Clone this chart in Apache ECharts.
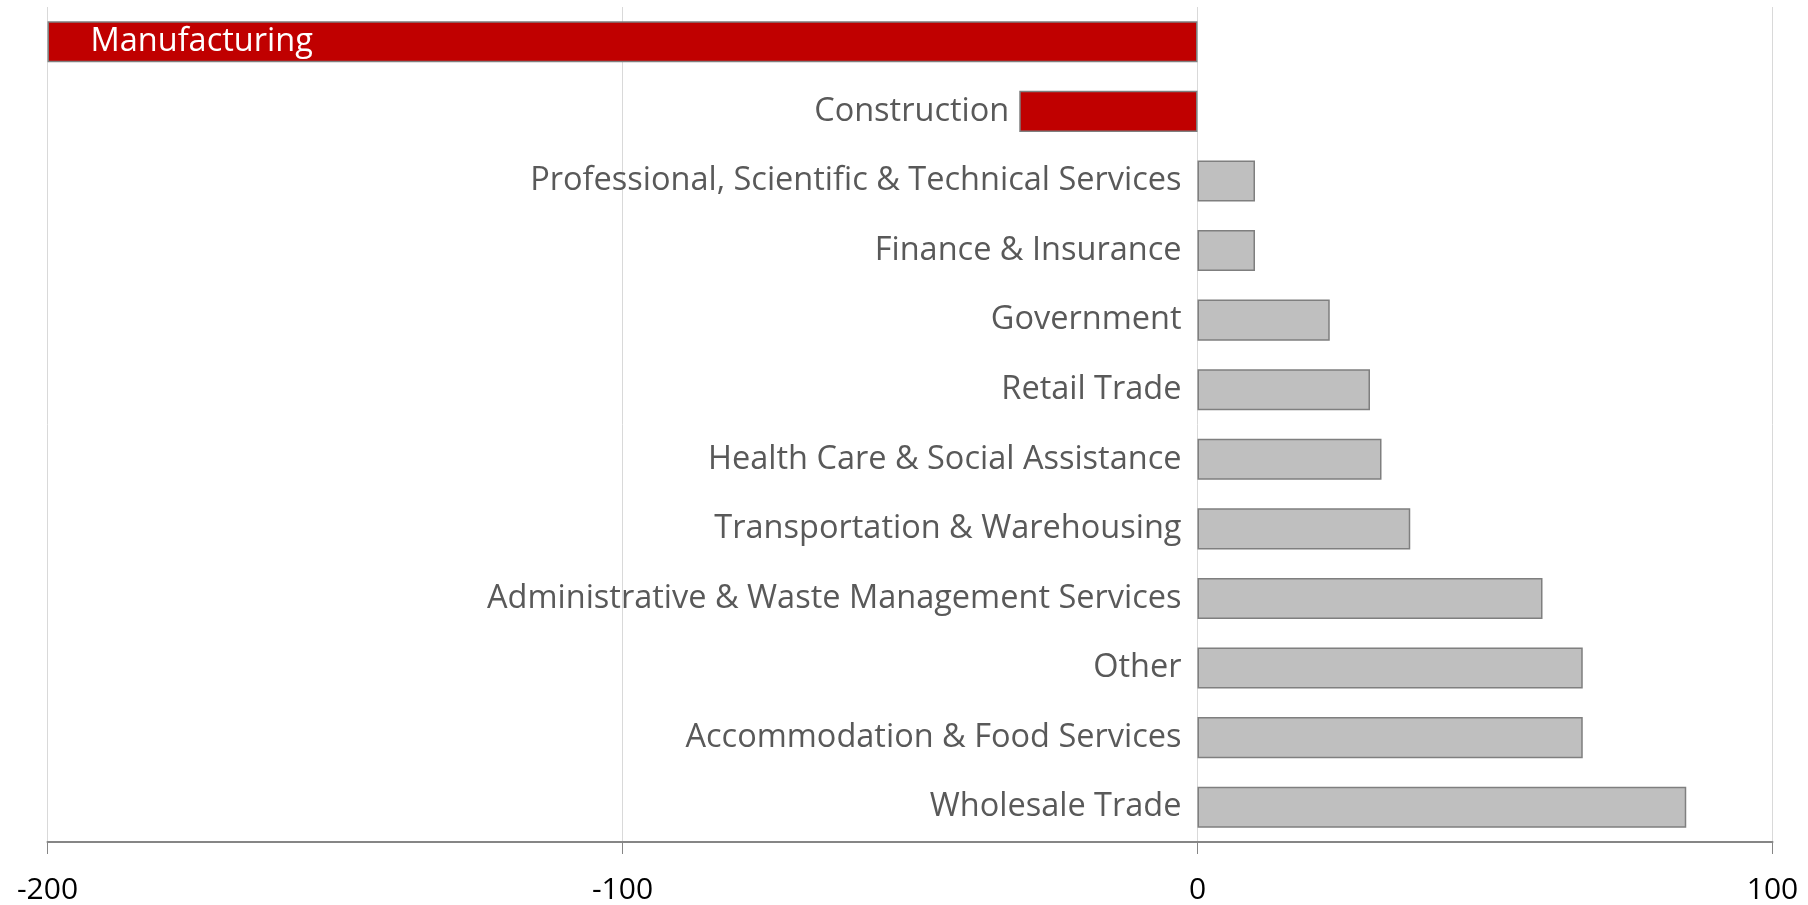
<!DOCTYPE html>
<html>
<head>
<meta charset="utf-8">
<script src="https://cdn.jsdelivr.net/npm/echarts@6/dist/echarts.min.js"></script>
<style>
html,body{margin:0;padding:0;background:#fff;}
#chart{width:1808px;height:905px;}
</style>
</head>
<body>
<div id="chart"></div>
<script>
const categories = [
  "Manufacturing",
  "Construction",
  "Professional, Scientific & Technical Services",
  "Finance & Insurance",
  "Government",
  "Retail Trade",
  "Health Care & Social Assistance",
  "Transportation & Warehousing",
  "Administrative & Waste Management Services",
  "Other",
  "Accommodation & Food Services",
  "Wholesale Trade"
];
const values = [-200, -31, 10, 10, 23, 30, 32, 37, 60, 67, 67, 85];
const xTicks = [-200, -100, 0, 100];

const FONT = "'Open Sans', 'Noto Sans', sans-serif";
const chart = echarts.init(document.getElementById('chart'));

const data = values.map((v, i) => {
  const item = { value: v, itemStyle: { color: v < 0 ? '#c00000' : '#bfbfbf' } };
  if (i === 0) {
    item.label = { position: 'insideLeft', distance: 43, color: '#ffffff', padding: [8, 0, 0, 0] };
  } else if (v < 0) {
    item.label = { position: 'left', distance: 10 };
  } else {
    item.label = { position: 'left', distance: 16 };
  }
  return item;
});

chart.setOption({
  animation: false,
  backgroundColor: '#ffffff',
  grid: { left: 47.5, right: 35.5, top: 7, bottom: 63, containLabel: false },
  xAxis: {
    type: 'value',
    min: xTicks[0],
    max: xTicks[xTicks.length - 1],
    interval: 100,
    axisLine: { show: true, onZero: false, lineStyle: { color: '#868686', width: 2 } },
    axisTick: { show: true, length: 12, lineStyle: { color: '#868686', width: 1 } },
    splitLine: { show: true, lineStyle: { color: '#d9d9d9', width: 1 } },
    axisLabel: { color: '#000000', fontSize: 30, fontFamily: FONT, margin: 33 }
  },
  yAxis: {
    type: 'category',
    data: categories,
    inverse: true,
    axisLine: { show: false },
    axisTick: { show: false },
    axisLabel: { show: false },
    splitLine: { show: false }
  },
  series: [{
    type: 'bar',
    data: data,
    barCategoryGap: '41%',
    itemStyle: { borderColor: '#7f7f7f', borderWidth: 1.5 },
    label: {
      show: true,
      formatter: '{b}',
      color: '#595959',
      fontSize: 32.5,
      fontFamily: FONT
    }
  }]
});
</script>
</body>
</html>
